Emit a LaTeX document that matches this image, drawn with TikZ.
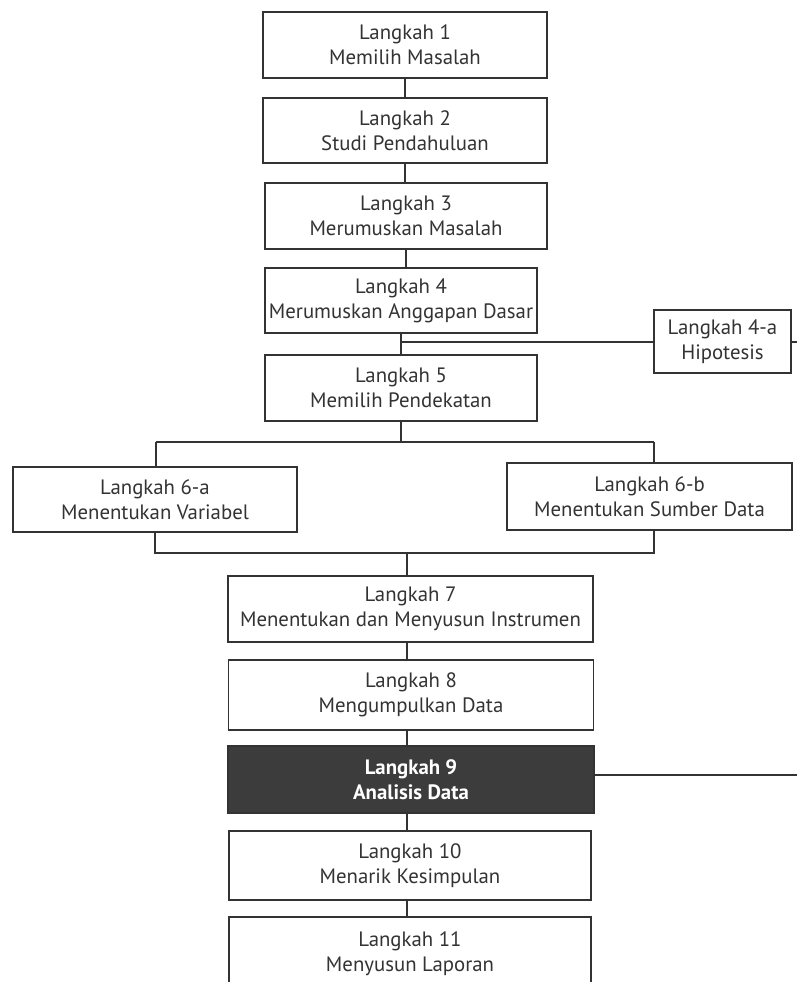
\documentclass[tikz,border=0pt]{standalone}
\usepackage{fontspec}
\setmainfont{PT Sans}
\definecolor{ink}{HTML}{333333}
\definecolor{darkfill}{HTML}{3C3C3C}
\tikzset{
  stepbox/.style={draw=ink, line width=1.2pt, fill=white, inner sep=0pt, align=center,
    text=ink, font=\fontsize{20.8}{25}\selectfont},
  darkbox/.style={stepbox, fill=darkfill, text=white, font=\fontsize{20.8}{25}\selectfont\bfseries},
  link/.style={draw=ink, line width=1.2pt}
}
\begin{document}
\begin{tikzpicture}[x=1pt,y=-1pt]
\useasboundingbox (0,0) rectangle (797,982);
\fill[white] (0,0) rectangle (797,982);

\node[stepbox, minimum width=284pt, minimum height=66pt] (b1) at (405,45) {Langkah 1\\Memilih Masalah};
\node[stepbox, minimum width=284pt, minimum height=65pt] (b2) at (405,130.5) {Langkah 2\\Studi Pendahuluan};
\node[stepbox, minimum width=282pt, minimum height=66pt] (b3) at (406,216) {Langkah 3\\Merumuskan Masalah};
\node[stepbox, minimum width=272pt, minimum height=65pt] (b4) at (401,300.5) {Langkah 4\\Merumuskan Anggapan Dasar};
\node[stepbox, minimum width=137pt, minimum height=63pt] (b4a) at (722.5,341.5) {Langkah 4-a\\Hipotesis};
\node[stepbox, minimum width=272pt, minimum height=66pt] (b5) at (401,388) {Langkah 5\\Memilih Pendekatan};
\node[stepbox, minimum width=284pt, minimum height=65pt] (b6a) at (155,499.5) {Langkah 6-a\\Menentukan Variabel};
\node[stepbox, minimum width=285pt, minimum height=67pt] (b6b) at (649.5,496.5) {Langkah 6-b\\Menentukan Sumber Data};
\node[stepbox, minimum width=365pt, minimum height=66pt] (b7) at (410.5,609) {Langkah 7\\Menentukan dan Menyusun Instrumen};
\node[stepbox, minimum width=365pt, minimum height=70pt] (b8) at (411,695) {Langkah 8\\Mengumpulkan Data};
\node[darkbox, minimum width=366pt, minimum height=67pt] (b9) at (411,779.5) {Langkah 9\\Analisis Data};
\node[stepbox, minimum width=362pt, minimum height=69pt] (b10) at (410,865.5) {Langkah 10\\Menarik Kesimpulan};
\node[stepbox, minimum width=362pt, minimum height=73pt] (b11) at (410,953.5) {Langkah 11\\Menyusun Laporan};

\coordinate (j45) at (401,342);
\coordinate (j56) at (401,442);
\coordinate (ja) at (156,442);
\coordinate (jb) at (654,442);
\coordinate (ka) at (155,553);
\coordinate (kb) at (654,553);
\coordinate (k7) at (407,553);
\coordinate (r4a) at (797,342);
\coordinate (r9) at (797,775);

\draw[link] (b1.south) -- (b2.north);
\draw[link] (b2.south) -- (b2.south |- b3.north);
\draw[link] (b3.south) -- (b3.south |- b4.north);
\draw[link] (b4.south) -- (b5.north);
\draw[link] (j45) -- (j45 -| b4a.west);
\draw[link] (r4a -| b4a.east) -- (r4a);
\draw[link] (b5.south) -- (j56);
\draw[link] (ja) -- (jb);
\draw[link] (ja) -- (ja |- b6a.north);
\draw[link] (jb) -- (jb |- b6b.north);
\draw[link] (ka |- b6a.south) -- (ka) -- (kb) -- (kb |- b6b.south);
\draw[link] (k7) -- (k7 |- b7.north);
\draw[link] (b7.south -| k7) -- (k7 |- b8.north);
\draw[link] (b8.south -| k7) -- (k7 |- b9.north);
\draw[link] (b9.south -| k7) -- (k7 |- b10.north);
\draw[link] (b10.south -| k7) -- (k7 |- b11.north);
\draw[link] (b9.east |- r9) -- (r9);
\end{tikzpicture}
\end{document}
